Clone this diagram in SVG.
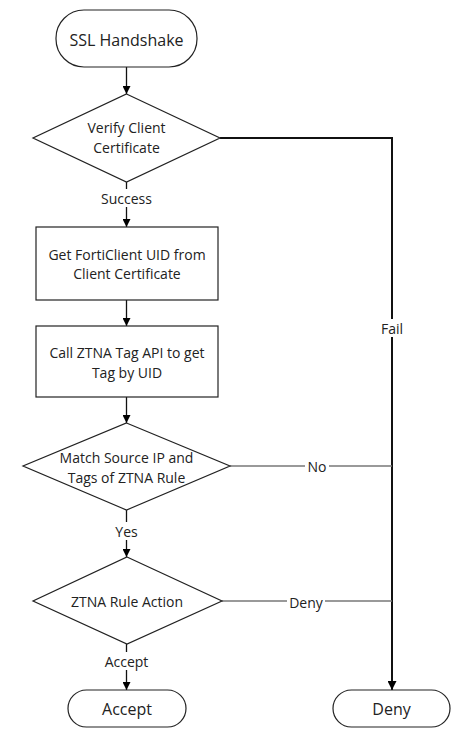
<svg xmlns="http://www.w3.org/2000/svg" width="459" height="740" viewBox="0 0 459 740">
<defs>
<style>
.s{fill:#fff;stroke:#222;stroke-width:1.2}
.t{font-family:"Open Sans","Noto Sans","Liberation Sans",sans-serif;font-size:14px;fill:#222;text-anchor:middle;dominant-baseline:central}
.big{font-size:16px}
.c{fill:none;stroke:#111;stroke-width:1.3}
.g{fill:none;stroke:#777;stroke-width:1.6}
.k{fill:none;stroke:#111;stroke-width:2}
.lb{fill:#fff}
</style>
<marker id="a" viewBox="0 0 10 10" refX="10" refY="5" markerWidth="8" markerHeight="8" markerUnits="userSpaceOnUse" orient="auto"><path d="M0,0 L10,5 L0,10 z" fill="#000"/></marker>
<marker id="a2" viewBox="0 0 10 10" refX="10" refY="5" markerWidth="9" markerHeight="9" markerUnits="userSpaceOnUse" orient="auto"><path d="M0,0 L10,5 L0,10 z" fill="#000"/></marker>
</defs>
<rect width="459" height="740" fill="#fff"/>
<g id="connectors">
<path class="c" d="M126.5,67 V94" marker-end="url(#a)"/>
<path class="c" d="M126.5,182 V227" marker-end="url(#a)"/>
<path class="c" d="M126.5,300 V326" marker-end="url(#a)"/>
<path class="c" d="M126.5,397 V423" marker-end="url(#a)"/>
<path class="c" d="M126.5,510 V557" marker-end="url(#a)"/>
<path class="c" d="M126.5,644 V690" marker-end="url(#a)"/>
<path class="k" d="M220,138 H392 V690" marker-end="url(#a2)"/>
<path class="g" d="M230,466 H392"/>
<path class="g" d="M222,601 H392"/>
<rect class="lb" x="98" y="189" width="58" height="18"/>
<text class="t" x="126.5" y="198">Success</text>
<rect class="lb" x="111" y="522" width="32" height="18"/>
<text class="t" x="126.5" y="531">Yes</text>
<rect class="lb" x="100" y="652" width="54" height="18"/>
<text class="t" x="126.5" y="661">Accept</text>
<rect class="lb" x="377" y="319" width="30" height="18"/>
<text class="t" x="392" y="328">Fail</text>
<rect class="lb" x="305" y="457" width="24" height="18"/>
<text class="t" x="317" y="466">No</text>
<rect class="lb" x="287" y="592" width="38" height="18"/>
<text class="t" x="306" y="602">Deny</text>
</g>
<g id="ssl"><rect class="s" x="56" y="10" width="141" height="57" rx="28"/><text class="t big" x="126.5" y="40">SSL Handshake</text></g>
<g id="verify"><path class="s" d="M126.5,94 L220,138 L126.5,182 L33,138 Z"/><text class="t" x="126.5" y="127">Verify Client</text><text class="t" x="126.5" y="147">Certificate</text></g>
<g id="getuid"><rect class="s" x="36" y="227" width="182" height="73"/><text class="t" x="127" y="254">Get FortiClient UID from</text><text class="t" x="127" y="273">Client Certificate</text></g>
<g id="calltag"><rect class="s" x="36" y="326" width="182" height="71"/><text class="t" x="127" y="352">Call ZTNA Tag API to get</text><text class="t" x="127" y="372">Tag by UID</text></g>
<g id="match"><path class="s" d="M126.5,423 L230,466 L126.5,510 L23,466 Z"/><text class="t" x="126.5" y="457">Match Source IP and</text><text class="t" x="126.5" y="477">Tags of ZTNA Rule</text></g>
<g id="action"><path class="s" d="M127,557 L222,601 L127,644 L33,601 Z"/><text class="t" x="127" y="601">ZTNA Rule Action</text></g>
<g id="accept"><rect class="s" x="68" y="690" width="118" height="37" rx="18.5"/><text class="t big" x="127" y="709">Accept</text></g>
<g id="deny"><rect class="s" x="333" y="690" width="117" height="37" rx="18.5"/><text class="t big" x="391.5" y="709">Deny</text></g>
</svg>
